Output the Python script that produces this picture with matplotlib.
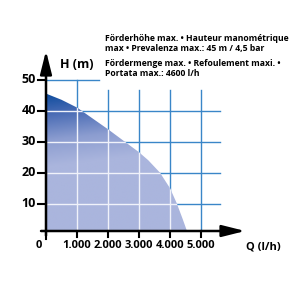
import numpy as np
import matplotlib.pyplot as plt
from matplotlib.patches import Polygon
from matplotlib.colors import LinearSegmentedColormap

# pump curve: flow Q (l/h) vs head H (m)
flow = [0, 500, 1000, 1500, 2000, 2500, 3000, 3300, 3677, 4000, 4215, 4400, 4590]
head = [45.5, 43.5, 41, 37.5, 34, 30.3, 26.6, 24, 20, 15, 10.2, 5.3, 0]

x_ticks = [1000, 2000, 3000, 4000, 5000]
x_labels = ['1.000', '2.000', '3.000', '4.000', '5.000']
y_ticks = [10, 20, 30, 40, 50]

info1 = 'Förderhöhe max. • Hauteur manométrique\nmax • Prevalenza max.: 45 m / 4,5 bar'
info2 = 'Fördermenge max. • Refoulement maxi. •\nPortata max.: 4600 l/h'

grid_blue = '#3a86c8'
font = ['Open Sans', 'DejaVu Sans']

fig = plt.figure(figsize=(3, 3), dpi=100)
ax = fig.add_axes([46 / 300, 69 / 300, 202 / 300, 183 / 300])
xmax, ymin, ymax = 6516, 1.2, 60.2
ax.set_xlim(0, xmax)
ax.set_ylim(ymin, ymax)
ax.axis('off')

# blue grid (outside the fill)
for y in [10, 20, 30, 40]:
    ax.plot([0, 5600], [y, y], color=grid_blue, lw=1, zorder=1)
ax.plot([0, 1700], [50, 50], color=grid_blue, lw=1, zorder=1)
ax.plot([1000, 1000], [ymin, 50], color=grid_blue, lw=1, zorder=1)
for x in x_ticks[1:]:
    ax.plot([x, x], [ymin, 46.5], color=grid_blue, lw=1, zorder=1)

# gradient fill under the curve, dark at the top, light below
poly_pts = list(zip(flow, head)) + [(0, 0)]
poly = Polygon(poly_pts, closed=True, facecolor='none', edgecolor='none')
ax.add_patch(poly)
cmap = LinearSegmentedColormap.from_list(
    'pump', [(0, '#0a4a9c'), (0.3, '#4a6cb5'), (0.65, '#8c9dd0'), (1, '#aab5dd')])
hh = np.linspace(0, 46, 200)
qq = np.linspace(0, 4700, 200)
gq, gh = np.meshgrid(qq, hh)
grad = np.clip((46 - gh) / 24 + gq / 20000, 0, 1)
im = ax.imshow(grad, extent=[0, 4700, 0, 46], origin='lower', cmap=cmap, vmin=0, vmax=1,
               aspect='auto', zorder=2)
im.set_clip_path(poly)

# white grid inside the fill
for y in [10, 20, 30, 40]:
    l, = ax.plot([0, 5600], [y, y], color='#f0f2fa', lw=1, zorder=3)
    l.set_clip_path(poly)
for x in x_ticks:
    l, = ax.plot([x, x], [ymin, 50], color='#f0f2fa', lw=1, zorder=3)
    l.set_clip_path(poly)

# axes with arrows
ax.annotate('', xy=(xmax, ymin), xytext=(-250, ymin),
            arrowprops=dict(arrowstyle='-|>,head_length=1.4,head_width=0.35', color='black', lw=1.8),
            annotation_clip=False, zorder=5)
ax.annotate('', xy=(0, ymax), xytext=(0, -1.2),
            arrowprops=dict(arrowstyle='-|>,head_length=1.4,head_width=0.35', color='black', lw=1.8),
            annotation_clip=False, zorder=5)

for y in y_ticks:
    ax.plot([-250, 0], [y, y], color='black', lw=1.5, clip_on=False, zorder=5)
    ax.text(-330, y, str(y), ha='right', va='center', fontsize=9, fontweight='bold', family=font)
for x, lab in zip(x_ticks, x_labels):
    ax.plot([x, x], [ymin, ymin - 2], color='black', lw=1.5, clip_on=False, zorder=5)
    ax.text(x, ymin - 4.8, lab, ha='center', va='center', fontsize=8, fontweight='bold', family=font)
ax.plot([0, 0], [ymin, ymin - 2.5], color='black', lw=1.5, clip_on=False, zorder=5)
ax.text(-230, ymin - 4.8, '0', ha='center', va='center', fontsize=8, fontweight='bold', family=font)

fig.text(60 / 300, 1 - 65 / 300, 'H (m)', ha='left', va='center', fontsize=9, fontweight='bold', family=font)
fig.text(263 / 300, 1 - 247 / 300, 'Q (l/h)', ha='center', va='center', fontsize=8, fontweight='bold', family=font)
fig.text(105 / 300, 1 - 34 / 300, info1, ha='left', va='top', fontsize=6.2, fontweight='bold',
         family=font, linespacing=1.15)
fig.text(105 / 300, 1 - 59 / 300, info2, ha='left', va='top', fontsize=6.2, fontweight='bold',
         family=font, linespacing=1.15)

fig.savefig('out.png', dpi=100)
